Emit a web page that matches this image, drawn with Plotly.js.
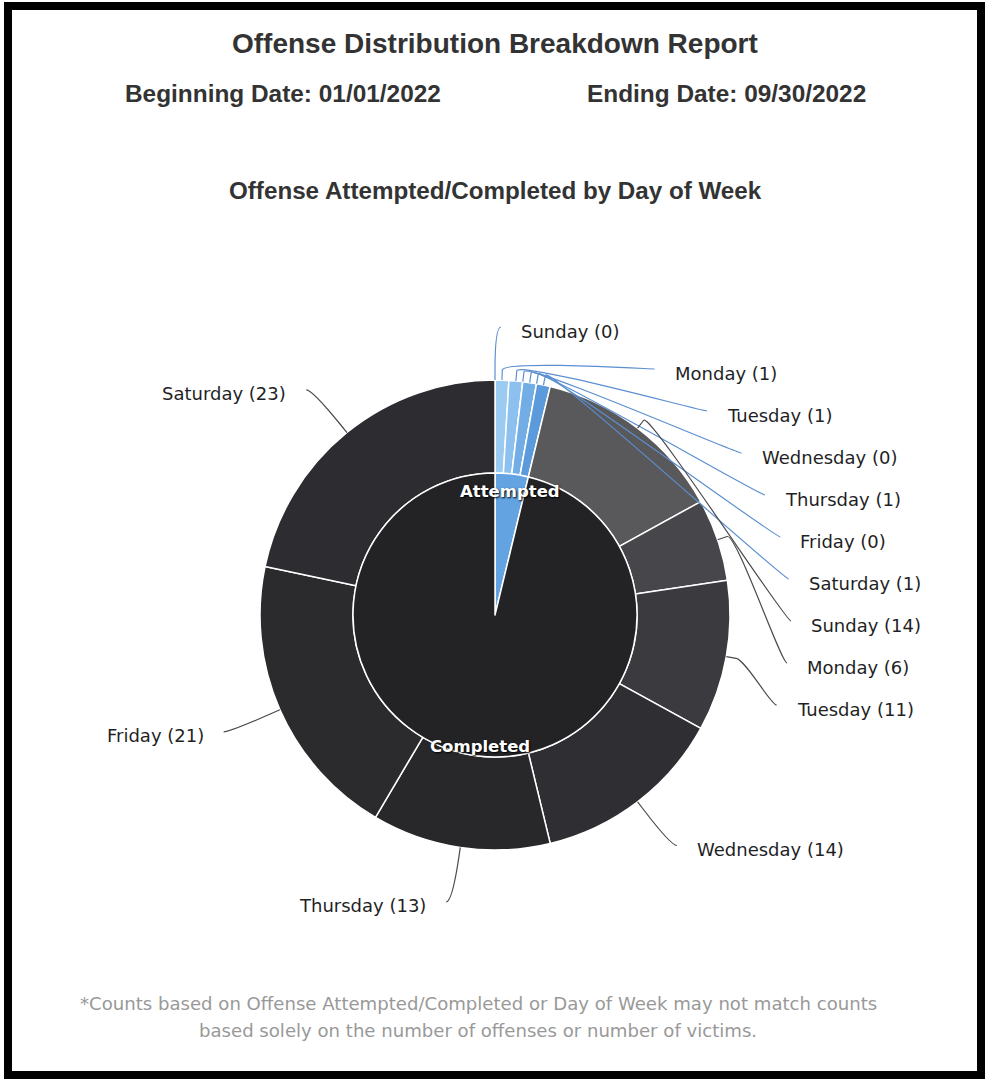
<!DOCTYPE html>
<html>
<head>
<meta charset="utf-8">
<script src="https://cdn.plot.ly/plotly-3.0.1.min.js"></script>
<style>html,body{margin:0;padding:0;background:#fff;}#chart{width:987px;height:1081px;}</style>
</head>
<body>
<div id="chart"></div>
<script>
// ---------- data ----------
const days = ['Sunday','Monday','Tuesday','Wednesday','Thursday','Friday','Saturday'];
const groups = ['Attempted','Completed'];
const attemptedCounts = [0,1,1,0,1,0,1];
const completedCounts = [14,6,11,14,13,21,23];

const reportTitle = 'Offense Distribution Breakdown Report';
const beginText = 'Beginning Date: 01/01/2022';
const endText = 'Ending Date: 09/30/2022';
const chartTitle = 'Offense Attempted/Completed by Day of Week';
const footnote1 = '*Counts based on Offense Attempted/Completed or Day of Week may not match counts';
const footnote2 = 'based solely on the number of offenses or number of victims.';

// ---------- styles / layout constants ----------
const W = 987, H = 1081;
const CX = 495, CY = 615, R_OUT = 235, R_IN = 142;
const LABEL_R = 290, GAP = 42, LABEL_DX = 24, LABEL_DY = 4, BREAK = 10, TOP_PAD = 2;
const innerColors = ['#63a3e2', '#232225'];
const attemptedDayColors = ['#a6d0f3','#9ccbf2','#8cc0ee','#80b7ea','#72ade5','#67a4e1','#5b9bdc'];
const completedDayColors = ['#59585b','#47464a','#3b3a3e','#2f2e32','#28272a','#2b2a2d','#2d2c30'];
const labelFont = {family:'DejaVu Sans, Verdana, sans-serif', size:18, color:'#1f1f26'};

const px2x = p => p / W;
const py2y = p => 1 - p / H;

const sum = a => a.reduce((s,v)=>s+v,0);
const innerValues = [sum(attemptedCounts), sum(completedCounts)];
const outerValues = attemptedCounts.concat(completedCounts);
const outerLabels = groups.flatMap(g => days.map(d => g + ' - ' + d));
const outerColors = attemptedDayColors.concat(completedDayColors);
const total = sum(outerValues);

const domOuter = {x:[px2x(CX-R_OUT), px2x(CX+R_OUT)], y:[py2y(CY+R_OUT), py2y(CY-R_OUT)]};
const domInner = {x:[px2x(CX-R_IN), px2x(CX+R_IN)], y:[py2y(CY+R_IN), py2y(CY-R_IN)]};

const outer = {
  type:'pie', values: outerValues, labels: outerLabels, sort:false, direction:'clockwise', rotation:0,
  hole: R_IN / R_OUT, domain: domOuter, textinfo:'none', hoverinfo:'label+value',
  marker:{colors: outerColors, line:{color:'#ffffff', width:1.5}}, showlegend:false
};
const inner = {
  type:'pie', values: innerValues, labels: groups, sort:false, direction:'clockwise', rotation:0,
  domain: domInner, textinfo:'none', hoverinfo:'label+value',
  marker:{colors: innerColors, line:{color:'#ffffff', width:1.5}}, showlegend:false
};

// ---------- label placement (computed from slice angles) ----------
const items = [];
let acc = 0;
outerValues.forEach((v, i) => {
  const mid = (acc + v/2) / total * 2 * Math.PI;
  acc += v;
  const g = i < 7 ? 0 : 1;
  items.push({
    theta: mid, text: days[i % 7] + ' (' + v + ')', right: mid < Math.PI,
    ideal: CY - LABEL_R * Math.cos(mid), color: g === 0 ? '#5b8fd0' : '#4a4a4e'
  });
});

function distribute(list, top, bottom) {
  list.sort((a,b)=>a.ideal-b.ideal);
  let clusters = list.map(it => ({items:[it]}));
  const pos = c => {
    const n = c.items.length;
    const mean = c.items.reduce((s,i)=>s+i.ideal,0)/n;
    let start = mean - (n-1)*GAP/2;
    return Math.max(top, Math.min(start, bottom - (n-1)*GAP));
  };
  let merged = true;
  while (merged) {
    merged = false;
    for (let i = 0; i < clusters.length-1; i++) {
      const a = clusters[i], b = clusters[i+1];
      if (pos(a) + a.items.length*GAP > pos(b)) {
        a.items = a.items.concat(b.items); clusters.splice(i+1,1); merged = true; break;
      }
    }
  }
  clusters.forEach(c => { const s = pos(c); c.items.forEach((it,k)=>{ it.y = s + k*GAP; it.atTop = Math.abs(it.y - top) < 0.01; }); });
}
const topLim = CY - LABEL_R + TOP_PAD, botLim = CY + LABEL_R;
distribute(items.filter(i=>i.right), topLim, botLim);
distribute(items.filter(i=>!i.right), topLim, botLim);

const annotations = [];
const shapes = [];
items.forEach(it => {
  const dyForX = it.atTop ? (it.ideal - CY) : (it.y - CY);
  const dx = Math.sqrt(Math.max(LABEL_R*LABEL_R - dyForX*dyForX, 0));
  const s = it.right ? 1 : -1;
  const xa = CX + s*dx;
  const ex = CX + R_OUT*Math.sin(it.theta), ey = CY - R_OUT*Math.cos(it.theta);
  const bx = CX + (R_OUT+BREAK)*Math.sin(it.theta), by = CY - (R_OUT+BREAK)*Math.cos(it.theta);
  const sx = xa + s*6;
  const path = 'M ' + px2x(sx) + ' ' + py2y(it.y) +
    ' C ' + px2x(xa) + ' ' + py2y(it.y) + ' ' + px2x(2*bx-ex) + ' ' + py2y(2*by-ey) + ' ' + px2x(bx) + ' ' + py2y(by) +
    ' L ' + px2x(ex) + ' ' + py2y(ey);
  shapes.push({type:'path', xref:'paper', yref:'paper', path: path, line:{color: it.color, width:1.2}});
  annotations.push({
    xref:'paper', yref:'paper', x: px2x(xa + s*LABEL_DX), y: py2y(it.y + LABEL_DY),
    xanchor: it.right ? 'left' : 'right', yanchor:'middle', showarrow:false,
    text: it.text, font: labelFont
  });
});

// inner labels
let acc2 = 0;
innerValues.forEach((v,i) => {
  const mid = (acc2 + v/2) / sum(innerValues) * 2*Math.PI; acc2 += v;
  const r = 128;
  annotations.push({
    xref:'paper', yref:'paper', x: px2x(CX + r*Math.sin(mid)), y: py2y(CY - r*Math.cos(mid) + LABEL_DY),
    xanchor:'center', yanchor:'middle', showarrow:false, text: groups[i],
    font:{family:'DejaVu Sans, Verdana, sans-serif', size:16.5, color:'#ffffff', weight:'bold', shadow:'1px 1px 2px #000000'}
  });
});

// titles
const titleFont = (sz) => ({family:'Liberation Sans, Arial, sans-serif', size:sz, color:'#333333', weight:'bold'});
annotations.push({xref:'paper', yref:'paper', x:px2x(495), y:py2y(43), xanchor:'center', yanchor:'middle', showarrow:false, text:reportTitle, font:titleFont(28)});
annotations.push({xref:'paper', yref:'paper', x:px2x(283), y:py2y(93), xanchor:'center', yanchor:'middle', showarrow:false, text:beginText, font:titleFont(24.4)});
annotations.push({xref:'paper', yref:'paper', x:px2x(726), y:py2y(93), xanchor:'center', yanchor:'middle', showarrow:false, text:endText, font:titleFont(24.4)});
annotations.push({xref:'paper', yref:'paper', x:px2x(495), y:py2y(190), xanchor:'center', yanchor:'middle', showarrow:false, text:chartTitle, font:titleFont(24.2)});
const footFont = {family:'DejaVu Sans, Verdana, sans-serif', size:18.1, color:'#999999'};
annotations.push({xref:'paper', yref:'paper', x:px2x(478), y:py2y(1003), xanchor:'center', yanchor:'middle', showarrow:false, text:footnote1, font:footFont});
annotations.push({xref:'paper', yref:'paper', x:px2x(478), y:py2y(1030), xanchor:'center', yanchor:'middle', showarrow:false, text:footnote2, font:footFont});

// frame
shapes.push({type:'rect', xref:'paper', yref:'paper', x0:px2x(8), x1:px2x(981), y0:py2y(1075), y1:py2y(6), line:{color:'#000000', width:8}, fillcolor:'rgba(0,0,0,0)'});

const layout = {
  width: W, height: H, margin:{l:0,r:0,t:0,b:0}, paper_bgcolor:'#ffffff', plot_bgcolor:'#ffffff',
  showlegend:false, annotations: annotations, shapes: shapes
};
Plotly.newPlot('chart', [outer, inner], layout, {displayModeBar:false, staticPlot:true});
</script>
</body>
</html>
